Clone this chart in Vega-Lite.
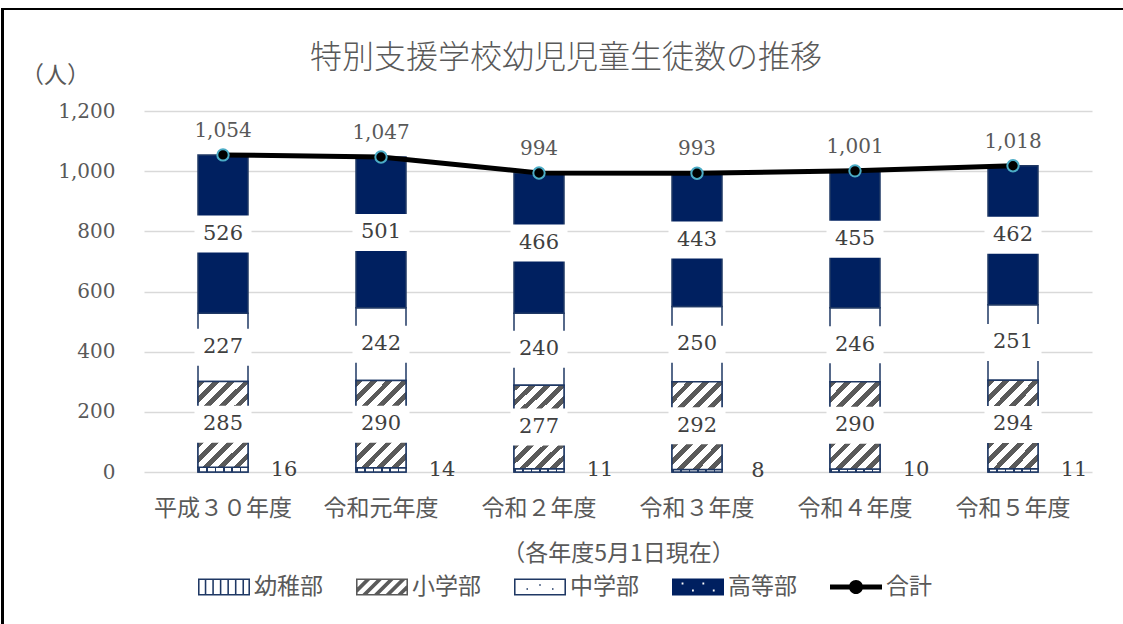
{
  "$schema": "https://vega.github.io/schema/vega-lite/v6.json",
  "width": 948,
  "height": 361,
  "autosize": {"type": "none"},
  "padding": {"left": 144, "top": 111, "right": 31, "bottom": 152},
  "background": "#ffffff",
  "config": {"view": {"stroke": null}, "font": "Noto Sans CJK JP"},
  "title": {
    "text": "特別支援学校幼児児童生徒数の推移",
    "fontSize": 32,
    "fontWeight": 300,
    "font": "Noto Sans CJK JP",
    "color": "#595959",
    "anchor": "middle",
    "frame": "group",
    "dx": -52,
    "dy": 98,
    "offset": 30
  },
  "data": {
    "values": [
      {"year": "平成３０年度", "series": "幼稚部", "value": 16},
      {"year": "平成３０年度", "series": "小学部", "value": 285},
      {"year": "平成３０年度", "series": "中学部", "value": 227},
      {"year": "平成３０年度", "series": "高等部", "value": 526},
      {"year": "令和元年度", "series": "幼稚部", "value": 14},
      {"year": "令和元年度", "series": "小学部", "value": 290},
      {"year": "令和元年度", "series": "中学部", "value": 242},
      {"year": "令和元年度", "series": "高等部", "value": 501},
      {"year": "令和２年度", "series": "幼稚部", "value": 11},
      {"year": "令和２年度", "series": "小学部", "value": 277},
      {"year": "令和２年度", "series": "中学部", "value": 240},
      {"year": "令和２年度", "series": "高等部", "value": 466},
      {"year": "令和３年度", "series": "幼稚部", "value": 8},
      {"year": "令和３年度", "series": "小学部", "value": 292},
      {"year": "令和３年度", "series": "中学部", "value": 250},
      {"year": "令和３年度", "series": "高等部", "value": 443},
      {"year": "令和４年度", "series": "幼稚部", "value": 10},
      {"year": "令和４年度", "series": "小学部", "value": 290},
      {"year": "令和４年度", "series": "中学部", "value": 246},
      {"year": "令和４年度", "series": "高等部", "value": 455},
      {"year": "令和５年度", "series": "幼稚部", "value": 11},
      {"year": "令和５年度", "series": "小学部", "value": 294},
      {"year": "令和５年度", "series": "中学部", "value": 251},
      {"year": "令和５年度", "series": "高等部", "value": 462}
    ]
  },
  "layer": [
    {
      "transform": [{"stack": "value", "groupby": ["year"], "as": ["v0", "v1"]}],
      "mark": {"type": "bar", "width": 50, "stroke": "#1f3864", "strokeWidth": 1.5},
      "encoding": {
        "x": {
          "field": "year",
          "type": "nominal",
          "title": "（各年度5月1日現在）",
          "scale": {
            "domain": ["平成３０年度", "令和元年度", "令和２年度", "令和３年度", "令和４年度", "令和５年度"],
            "paddingInner": 0,
            "paddingOuter": 0
          },
          "axis": {
            "titleFont": "Noto Sans CJK JP",
            "titleFontSize": 23,
            "titleFontWeight": "normal",
            "titleColor": "#595959",
            "titlePadding": 22,
            "labelAngle": 0,
            "labelFont": "Noto Sans CJK JP",
            "labelFontSize": 23,
            "labelColor": "#595959",
            "labelPadding": 25,
            "domain": false,
            "ticks": false,
            "grid": false
          }
        },
        "y": {
          "field": "v0",
          "type": "quantitative",
          "title": "（人）",
          "scale": {"domain": [0, 1200]},
          "axis": {
            "titleAngle": 0,
            "titleX": -89,
            "titleY": -36,
            "titleAlign": "center",
            "titleBaseline": "middle",
            "titleFont": "Noto Sans CJK JP",
            "titleFontSize": 23,
            "titleFontWeight": "normal",
            "titleColor": "#595959",
            "values": [0, 200, 400, 600, 800, 1000, 1200],
            "format": ",d",
            "labelFont": "DejaVu Serif",
            "labelFontSize": 20,
            "labelColor": "#595959",
            "labelPadding": 29,
            "domain": false,
            "ticks": false,
            "grid": true,
            "gridColor": "#d9d9d9",
            "gridWidth": 1.5
          }
        },
        "y2": {"field": "v1"},
        "fill": {
          "field": "series",
          "type": "nominal",
          "scale": {
            "domain": ["幼稚部", "小学部", "中学部", "高等部"],
            "range": ["#ffffff", "#ffffff", "#ffffff", "#002060"]
          },
          "legend": null
        }
      }
    },
    {
      "mark": {"type": "point", "filled": true, "size": 0, "strokeWidth": 0, "opacity": 1},
      "encoding": {
        "x": {"field": "year", "type": "nominal", "title": "（各年度5月1日現在）"},
        "y": {"field": "value", "type": "quantitative", "title": "（人）"},
        "color": {
          "field": "series",
          "type": "nominal",
          "scale": {
            "domain": ["幼稚部", "小学部", "中学部", "高等部", "合計"],
            "range": ["#1f3864", "#5a5a5a", "#1f3864", "#002060", "#000000"]
          },
          "legend": {
            "title": null,
            "orient": "none",
            "legendX": 54,
            "legendY": 450,
            "direction": "horizontal",
            "columns": 5,
            "columnPadding": 33,
            "symbolSize": 2704,
            "symbolStrokeWidth": 0,
            "symbolOpacity": 1,
            "labelFont": "Noto Sans CJK JP",
            "labelFontSize": 23,
            "labelColor": "#595959",
            "labelOffset": 4
          }
        },
        "shape": {
          "field": "series",
          "type": "nominal",
          "scale": {
            "domain": ["幼稚部", "小学部", "中学部", "高等部", "合計"],
            "range": [
              "M-1,-0.33H1V0.33H-1Z M-0.94,-0.27V0.27H0.94V-0.27Z M-0.74,-0.3H-0.68V0.3H-0.74Z M-0.45,-0.3H-0.39V0.3H-0.45Z M-0.16,-0.3H-0.1V0.3H-0.16Z M0.13,-0.3H0.19V0.3H0.13Z M0.42,-0.3H0.48V0.3H0.42Z M0.71,-0.3H0.77V0.3H0.71Z",
              "M-1,-0.33H1V0.33H-1Z M-0.94,-0.27V0.27H0.94V-0.27Z M-0.94,0.21L-0.94,0.01L-0.66,-0.27L-0.46,-0.27Z M-0.75,0.27L-0.55,0.27L-0.01,-0.27L-0.21,-0.27Z M-0.3,0.27L-0.1,0.27L0.44,-0.27L0.24,-0.27Z M0.15,0.27L0.35,0.27L0.89,-0.27L0.69,-0.27Z M0.6,0.27L0.8,0.27L0.94,0.13L0.94,-0.07Z",
              "M-1,-0.33H1V0.33H-1Z M-0.94,-0.27V0.27H0.94V-0.27Z M-0.52,0.05H-0.46V0.11H-0.52Z M-0.03,-0.11H0.03V-0.05H-0.03Z M0.46,0.05H0.52V0.11H0.46Z",
              "M-1,-0.33H1V0.33H-1Z M-0.63,-0.17V-0.1H-0.56V-0.17Z M-0.23,0.1V0.17H-0.16V0.1Z M0.17,-0.17V-0.1H0.24V-0.17Z M0.57,0.1V0.17H0.64V0.1Z",
              "M-1,-0.1H1V0.1H-1Z M-0.27,0 A0.27,0.27 0 1,1 0.27,0 A0.27,0.27 0 1,1 -0.27,0Z"
            ]
          },
          "legend": {
            "title": null,
            "orient": "none",
            "legendX": 54,
            "legendY": 450,
            "direction": "horizontal",
            "columns": 5,
            "columnPadding": 33,
            "symbolSize": 2704,
            "symbolStrokeWidth": 0,
            "symbolOpacity": 1,
            "labelFont": "Noto Sans CJK JP",
            "labelFontSize": 23,
            "labelColor": "#595959",
            "labelOffset": 4
          }
        }
      }
    },
    {
      "transform": [
        {"stack": "value", "groupby": ["year"], "as": ["v0", "v1"]},
        {"filter": {"field": "series", "equal": "幼稚部"}}
      ],
      "mark": {
        "type": "bar", "width": 50, "stroke": "#1f3864", "strokeWidth": 1.5,
        "fill": {"gradient": "linear", "x1": 0, "y1": 0, "x2": 1, "y2": 0, "stops": [
          {"offset": 0, "color": "#1f3864"}, {"offset": 0.035, "color": "#1f3864"}, {"offset": 0.035, "color": "#ffffff"},
          {"offset": 0.1667, "color": "#ffffff"}, {"offset": 0.1667, "color": "#1f3864"}, {"offset": 0.2, "color": "#1f3864"}, {"offset": 0.2, "color": "#ffffff"},
          {"offset": 0.3333, "color": "#ffffff"}, {"offset": 0.3333, "color": "#1f3864"}, {"offset": 0.3667, "color": "#1f3864"}, {"offset": 0.3667, "color": "#ffffff"},
          {"offset": 0.5, "color": "#ffffff"}, {"offset": 0.5, "color": "#1f3864"}, {"offset": 0.5333, "color": "#1f3864"}, {"offset": 0.5333, "color": "#ffffff"},
          {"offset": 0.6667, "color": "#ffffff"}, {"offset": 0.6667, "color": "#1f3864"}, {"offset": 0.7, "color": "#1f3864"}, {"offset": 0.7, "color": "#ffffff"},
          {"offset": 0.8333, "color": "#ffffff"}, {"offset": 0.8333, "color": "#1f3864"}, {"offset": 0.8667, "color": "#1f3864"}, {"offset": 0.8667, "color": "#ffffff"},
          {"offset": 1, "color": "#ffffff"}
        ]}
      },
      "encoding": {
        "x": {"field": "year", "type": "nominal", "title": "（各年度5月1日現在）"},
        "y": {"field": "v0", "type": "quantitative", "title": "（人）"},
        "y2": {"field": "v1"}
      }
    },
    {
      "transform": [
        {"stack": "value", "groupby": ["year"], "as": ["v0", "v1"]},
        {"filter": {"field": "series", "equal": "小学部"}}
      ],
      "mark": {
        "type": "bar", "width": 50, "stroke": "#1f3864", "strokeWidth": 1.5,
        "fill": {"gradient": "linear", "x1": 0, "y1": 0, "x2": 0.681, "y2": 1.184, "stops": [
          {"offset": 0, "color": "#5a5a5a"}, {"offset": 0.05, "color": "#5a5a5a"}, {"offset": 0.05, "color": "#ffffff"},
          {"offset": 0.1111, "color": "#ffffff"}, {"offset": 0.1111, "color": "#5a5a5a"}, {"offset": 0.1611, "color": "#5a5a5a"}, {"offset": 0.1611, "color": "#ffffff"},
          {"offset": 0.2222, "color": "#ffffff"}, {"offset": 0.2222, "color": "#5a5a5a"}, {"offset": 0.2722, "color": "#5a5a5a"}, {"offset": 0.2722, "color": "#ffffff"},
          {"offset": 0.3333, "color": "#ffffff"}, {"offset": 0.3333, "color": "#5a5a5a"}, {"offset": 0.3833, "color": "#5a5a5a"}, {"offset": 0.3833, "color": "#ffffff"},
          {"offset": 0.4444, "color": "#ffffff"}, {"offset": 0.4444, "color": "#5a5a5a"}, {"offset": 0.4944, "color": "#5a5a5a"}, {"offset": 0.4944, "color": "#ffffff"},
          {"offset": 0.5556, "color": "#ffffff"}, {"offset": 0.5556, "color": "#5a5a5a"}, {"offset": 0.6056, "color": "#5a5a5a"}, {"offset": 0.6056, "color": "#ffffff"},
          {"offset": 0.6667, "color": "#ffffff"}, {"offset": 0.6667, "color": "#5a5a5a"}, {"offset": 0.7167, "color": "#5a5a5a"}, {"offset": 0.7167, "color": "#ffffff"},
          {"offset": 0.7778, "color": "#ffffff"}, {"offset": 0.7778, "color": "#5a5a5a"}, {"offset": 0.8278, "color": "#5a5a5a"}, {"offset": 0.8278, "color": "#ffffff"},
          {"offset": 0.8889, "color": "#ffffff"}, {"offset": 0.8889, "color": "#5a5a5a"}, {"offset": 0.9389, "color": "#5a5a5a"}, {"offset": 0.9389, "color": "#ffffff"},
          {"offset": 1, "color": "#ffffff"}
        ]}
      },
      "encoding": {
        "x": {"field": "year", "type": "nominal", "title": "（各年度5月1日現在）"},
        "y": {"field": "v0", "type": "quantitative", "title": "（人）"},
        "y2": {"field": "v1"}
      }
    },
    {
      "transform": [
        {"stack": "value", "groupby": ["year"], "as": ["v0", "v1"]},
        {"filter": {"not": {"field": "series", "equal": "幼稚部"}}},
        {"fold": ["v0", "v1"], "as": ["k", "v"]},
        {"aggregate": [{"op": "mean", "field": "v", "as": "mid"}], "groupby": ["year", "series", "value"]}
      ],
      "layer": [
        {
          "mark": {"type": "point", "shape": "M-1,-0.649H1V0.649H-1Z", "size": 3249, "filled": true, "fill": "#ffffff", "strokeWidth": 0, "opacity": 1},
          "encoding": {
            "x": {"field": "year", "type": "nominal", "title": "（各年度5月1日現在）"},
            "y": {"field": "mid", "type": "quantitative", "title": "（人）"}
          }
        },
        {
          "mark": {"type": "text", "font": "DejaVu Serif", "fontSize": 21, "color": "#404040", "baseline": "middle", "align": "center"},
          "encoding": {
            "x": {"field": "year", "type": "nominal", "title": "（各年度5月1日現在）"},
            "y": {"field": "mid", "type": "quantitative", "title": "（人）"},
            "text": {"field": "value", "type": "quantitative"}
          }
        }
      ]
    },
    {
      "transform": [
        {"stack": "value", "groupby": ["year"], "as": ["v0", "v1"]},
        {"filter": {"field": "series", "equal": "幼稚部"}},
        {"fold": ["v0", "v1"], "as": ["k", "v"]},
        {"aggregate": [{"op": "mean", "field": "v", "as": "mid"}], "groupby": ["year", "series", "value"]}
      ],
      "mark": {"type": "text", "font": "DejaVu Serif", "fontSize": 21, "color": "#404040", "baseline": "middle", "align": "center", "dx": 61},
      "encoding": {
        "x": {"field": "year", "type": "nominal", "title": "（各年度5月1日現在）"},
        "y": {"field": "mid", "type": "quantitative", "title": "（人）"},
        "text": {"field": "value", "type": "quantitative"}
      }
    },
    {
      "transform": [
        {"aggregate": [{"op": "sum", "field": "value", "as": "total"}], "groupby": ["year"]}
      ],
      "layer": [
        {
          "mark": {"type": "line", "stroke": "#000000", "strokeWidth": 5},
          "encoding": {
            "x": {"field": "year", "type": "nominal", "title": "（各年度5月1日現在）"},
            "y": {"field": "total", "type": "quantitative", "title": "（人）"}
          }
        },
        {
          "mark": {"type": "point", "filled": true, "fill": "#000000", "stroke": "#4bacc6", "strokeWidth": 2, "size": 130, "opacity": 1},
          "encoding": {
            "x": {"field": "year", "type": "nominal", "title": "（各年度5月1日現在）"},
            "y": {"field": "total", "type": "quantitative", "title": "（人）"}
          }
        },
        {
          "mark": {"type": "text", "font": "DejaVu Serif", "fontSize": 20, "color": "#595959", "baseline": "middle", "align": "center", "dy": -24},
          "encoding": {
            "x": {"field": "year", "type": "nominal", "title": "（各年度5月1日現在）"},
            "y": {"field": "total", "type": "quantitative", "title": "（人）"},
            "text": {"field": "total", "type": "quantitative", "format": ","}
          }
        }
      ]
    },
    {
      "mark": {"type": "rule", "stroke": "#000000", "strokeWidth": 2, "clip": false},
      "encoding": {
        "x": {"datum": "平成３０年度", "type": "nominal", "bandPosition": -0.9},
        "x2": {"datum": "令和５年度", "bandPosition": 1.2},
        "y": {"datum": 1539, "type": "quantitative"}
      }
    },
    {
      "mark": {"type": "rule", "stroke": "#000000", "strokeWidth": 2, "clip": false},
      "encoding": {
        "x": {"datum": "平成３０年度", "type": "nominal", "bandPosition": -0.895},
        "y": {"datum": 1542, "type": "quantitative"},
        "y2": {"datum": -510}
      }
    }
  ]
}
